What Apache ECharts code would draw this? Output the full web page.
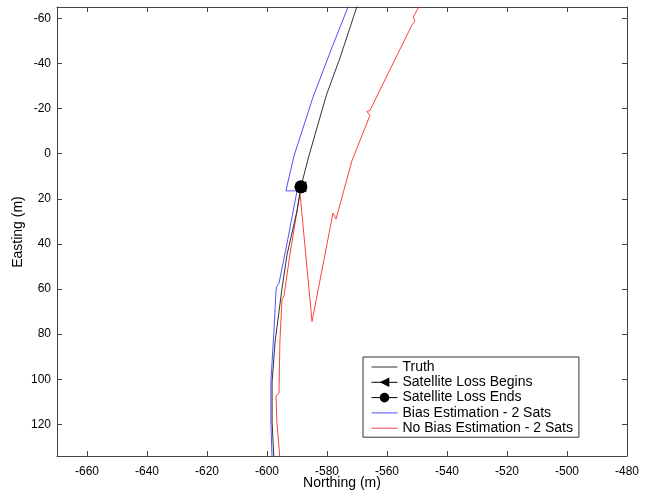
<!DOCTYPE html>
<html>
<head>
<meta charset="utf-8">
<script src="https://cdn.jsdelivr.net/npm/echarts@6/dist/echarts.min.js"></script>
<style>
  html, body { margin: 0; padding: 0; background: #fff; }
  #chart { width: 646px; height: 493px; }
</style>
</head>
<body>
<div id="chart"></div>
<script>
// tick labels
var northTicks = [-660, -640, -620, -600, -580, -560, -540, -520, -500, -480];
var eastTicks = [-60, -40, -20, 0, 20, 40, 60, 80, 100, 120];

// Truth trajectory
var truthN = [-569.3, -575.7, -579.7, -580.3, -581.7, -586.3, -588.7, -590.0, -593.3, -595.0, -597.3, -598.3, -598.3, -597.7];
var truthE = [-68.1, -42.3, -27.8, -25.5, -19.1, 2.3, 14.7, 25.4, 44.6, 59.7, 83.3, 101.1, 118.9, 135];

// Bias estimation - 2 sats
var biasN = [-571.7, -573.0, -578.7, -584.7, -591.0, -593.7, -590.0, -593.0, -596.0, -596.7, -597.0, -597.7, -598.7, -598.7, -598.3];
var biasE = [-68.1, -65, -45.8, -24.9, 1.0, 16.5, 16.5, 37.5, 57.5, 58.8, 60.7, 78.9, 101.1, 119, 135];

// No bias estimation - 2 sats
var noBiasN = [-595.7, -596.7, -597.0, -596.0, -595.7, -595.0, -594.3, -592.3, -589.0, -585.0, -578.0, -577.0, -571.7, -565.7, -566.7, -565.7, -551.7, -550.7, -551.3, -547.7];
var noBiasE = [135, 119.0, 107.4, 106.0, 83.3, 64.6, 62.8, 44.1, 17.4, 74.4, 26.3, 29.0, 3.2, -16.9, -18.7, -19.1, -57.0, -58.8, -60.5, -69];

// satellite loss markers
var lossBegins = [-588.7, 14.7];
var lossEnds = [-588.7, 14.7];

function zip(a, b) {
  return a.map(function (v, i) { return [v, b[i]]; });
}

var font = 'Liberation Sans, Arial, sans-serif';
var axisLineStyle = { color: '#444', width: 1 };
var lineIcon = 'path://M0,0H26V1H0Z';

var myChart = echarts.init(document.getElementById('chart'));
var option = {
  animation: false,
  backgroundColor: '#fff',
  grid: { left: 57, right: 19, top: 7, bottom: 37, outerBoundsMode: 'none', containLabel: false },
  // axis titles
  graphic: [{
    type: 'text',
    x: 342,
    y: 483,
    style: { text: 'Northing (m)', font: '14px ' + font, fill: '#000', align: 'center', verticalAlign: 'middle' }
  }, {
    type: 'text',
    x: 18,
    y: 232,
    rotation: Math.PI / 2,
    style: { text: 'Easting (m)', font: '14px ' + font, fill: '#000', align: 'center', verticalAlign: 'middle' }
  }],
  xAxis: [{
    type: 'value',
    min: -670,
    max: -480,
    position: 'bottom',
    axisLine: { show: true, onZero: false, lineStyle: axisLineStyle },
    axisTick: { show: true, inside: true, length: 5, lineStyle: axisLineStyle, customValues: northTicks },
    axisLabel: { fontFamily: font, fontSize: 12, color: '#000', margin: 10, customValues: northTicks },
    splitLine: { show: false }
  }, {
    type: 'value',
    min: -670,
    max: -480,
    position: 'top',
    axisLine: { show: true, onZero: false, lineStyle: axisLineStyle },
    axisTick: { show: true, inside: true, length: 5, lineStyle: axisLineStyle, customValues: northTicks },
    axisLabel: { show: false },
    splitLine: { show: false }
  }],
  yAxis: [{
    type: 'value',
    inverse: true,
    min: -65,
    max: 134,
    position: 'left',
    axisLine: { show: true, onZero: false, lineStyle: axisLineStyle },
    axisTick: { show: true, inside: true, length: 5, lineStyle: axisLineStyle, customValues: eastTicks },
    axisLabel: { fontFamily: font, fontSize: 12, color: '#000', margin: 6, customValues: eastTicks },
    splitLine: { show: false }
  }, {
    type: 'value',
    inverse: true,
    min: -65,
    max: 134,
    position: 'right',
    axisLine: { show: true, onZero: false, lineStyle: axisLineStyle },
    axisTick: { show: true, inside: true, length: 5, lineStyle: axisLineStyle, customValues: eastTicks },
    axisLabel: { show: false },
    splitLine: { show: false }
  }],
  legend: {
    orient: 'vertical',
    left: 363,
    top: 357,
    padding: [3, 6, 2, 8],
    itemGap: 1.3,
    itemWidth: 26,
    itemHeight: 12,
    borderColor: '#333',
    borderWidth: 1,
    backgroundColor: '#fff',
    textStyle: { fontFamily: font, fontSize: 14, color: '#000' },
    data: [
      { name: 'Truth', icon: lineIcon },
      { name: 'Satellite Loss Begins', lineStyle: { width: 1 } },
      { name: 'Satellite Loss Ends', lineStyle: { width: 1 } },
      { name: 'Bias Estimation - 2 Sats', icon: lineIcon },
      { name: 'No Bias Estimation - 2 Sats', icon: lineIcon }
    ]
  },
  series: [{
    name: 'Truth',
    type: 'line',
    symbol: 'none',
    color: '#333',
    lineStyle: { color: '#333', width: 1 },
    data: zip(truthN, truthE),
    z: 3
  }, {
    name: 'Bias Estimation - 2 Sats',
    type: 'line',
    symbol: 'none',
    color: '#5050ff',
    lineStyle: { color: '#5050ff', width: 1 },
    data: zip(biasN, biasE),
    z: 2
  }, {
    name: 'No Bias Estimation - 2 Sats',
    type: 'line',
    symbol: 'none',
    color: '#ff4040',
    lineStyle: { color: '#ff4040', width: 1 },
    data: zip(noBiasN, noBiasE),
    z: 2
  }, {
    name: 'Satellite Loss Begins',
    type: 'line',
    symbol: 'triangle',
    symbolRotate: 90,
    symbolSize: 11,
    showSymbol: true,
    color: '#000',
    itemStyle: { color: '#000' },
    lineStyle: { color: '#000', width: 1 },
    data: [lossBegins],
    z: 4
  }, {
    name: 'Satellite Loss Ends',
    type: 'line',
    symbol: 'circle',
    symbolSize: 13,
    showSymbol: true,
    color: '#000',
    itemStyle: { color: '#000' },
    lineStyle: { color: '#000', width: 1 },
    data: [lossEnds],
    z: 5
  }]
};
myChart.setOption(option);
</script>
</body>
</html>
